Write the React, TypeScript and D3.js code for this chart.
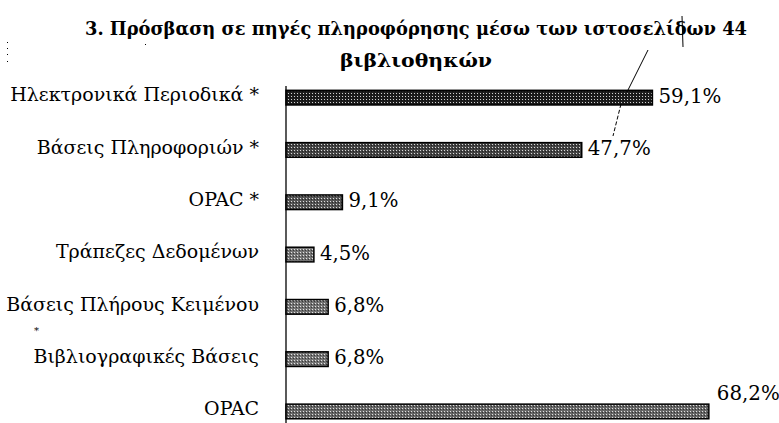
import React from 'react';
import * as d3 from 'd3';

const categories = [
  'Ηλεκτρονικά Περιοδικά *',
  'Βάσεις Πληροφοριών *',
  'OPAC *',
  'Τράπεζες Δεδομένων',
  'Βάσεις Πλήρους Κειμένου',
  'Βιβλιογραφικές Βάσεις',
  'OPAC',
];
const values = [59.1, 47.7, 9.1, 4.5, 6.8, 6.8, 68.2];
const valueLabels = ['59,1%', '47,7%', '9,1%', '4,5%', '6,8%', '6,8%', '68,2%'];
const titleLines = ['3. Πρόσβαση σε πηγές πληροφόρησης μέσω των ιστοσελίδων 44', 'βιβλιοθηκών'];

const W = 779, H = 423;
const m = { l: 286, t: 71.5 };
const serif = "'DejaVu Serif', serif";

// halftone look of the scanned bars
const shades = ['#1e1e1e', '#444', '#555', '#737373', '#737373', '#737373', '#666'];

export default function App() {
  const x = d3.scaleLinear().domain([0, 100]).range([m.l, m.l + 620]);
  const y = d3.scaleBand<string>().domain(categories).range([m.t, 437.6]).paddingInner(0.72).paddingOuter(0.36);
  const bw = y.bandwidth();
  const txt = { fontFamily: serif };

  return (
    <svg width={W} height={H} style={{ position: 'absolute', left: 0, top: 0, background: '#fff' }}>
      <defs>
        {shades.map((c, i) => (
          <pattern key={i} id={`ht${i}`} width={3} height={3} patternUnits="userSpaceOnUse">
            <rect width={3} height={3} fill={c} />
            <rect x={0} y={0} width={1} height={1} fill="#fff" opacity={0.8} />
            <rect x={2} y={1} width={1} height={1} fill="#000" opacity={0.5} />
          </pattern>
        ))}
      </defs>
      <rect width={W} height={H} fill="#fff" />

      <g style={txt} fontWeight="bold" fontSize={18} textAnchor="middle" fill="#000">
        <text x={416} y={35} textLength={662} lengthAdjust="spacingAndGlyphs">{titleLines[0]}</text>
        <text x={416} y={67} textLength={152} lengthAdjust="spacingAndGlyphs">{titleLines[1]}</text>
      </g>

      <line x1={m.l} x2={m.l} y1={86} y2={H} stroke="#000" strokeWidth={1.3} />

      {categories.map((c, i) => {
        const yc = (y(c) as number) + bw / 2;
        const last = i === categories.length - 1;
        const lbl = valueLabels[i];
        return (
          <g key={c}>
            <rect x={m.l} y={y(c)} width={x(values[i]) - m.l} height={bw}
              fill={`url(#ht${i})`} stroke="#000" strokeWidth={1.5} />
            <text x={259} y={yc - 3} dy="0.35em" textAnchor="end" style={txt} fontSize={19} fill="#000">{c}</text>
            <text x={x(values[i]) + (last ? 8 : 6)} y={last ? yc - 18 : yc - 2} dy="0.35em"
              style={txt} fontSize={20} textLength={lbl.length > 4 ? 63 : 50} lengthAdjust="spacingAndGlyphs"
              fill="#000">{lbl}</text>
          </g>
        );
      })}

      {/* scan marks */}
      <g stroke="#000" strokeWidth={1} fill="none">
        <line x1={682} y1={16} x2={683} y2={47} />
        <line x1={648} y1={50} x2={627} y2={92} />
        <line x1={621} y1={104} x2={613} y2={136} strokeDasharray="4 2" />
      </g>
      <g fill="#000">
        <rect x={7} y={42} width={1} height={1} />
        <rect x={7} y={48} width={1} height={1} />
        <rect x={7} y={54} width={1} height={1} />
        <rect x={7} y={61} width={1} height={1} />
        <rect x={145} y={44} width={1} height={1} />
        <text x={34} y={334} style={txt} fontSize={10}>*</text>
      </g>
    </svg>
  );
}
